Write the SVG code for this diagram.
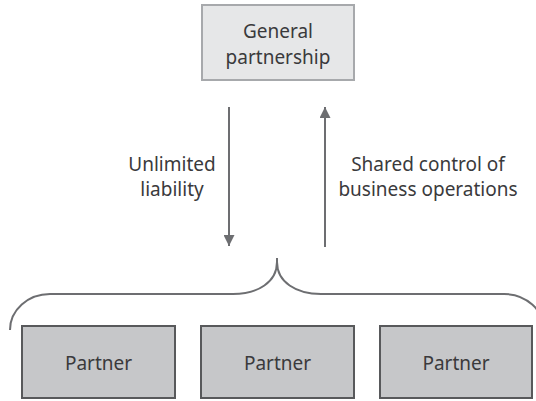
<svg xmlns="http://www.w3.org/2000/svg" width="536" height="401" viewBox="0 0 536 401">
<style>
.t{font-family:"Noto Sans","Liberation Sans",sans-serif;font-size:19px;fill:#3a3a3c;text-anchor:middle}
.top{fill:#e6e7e8;stroke:#a7a9ac;stroke-width:2}
.p{fill:#c6c7c9;stroke:#58595b;stroke-width:2}
.c{fill:none;stroke:#6d6e71;stroke-width:2}
</style>
<defs>
<marker id="ah" viewBox="0 0 10 10" refX="10" refY="5" markerWidth="5.5" markerHeight="5.5" markerUnits="strokeWidth" orient="auto">
<path d="M0,0 L10,5 L0,10 Z" fill="#6d6e71"/>
</marker>
</defs>
<g id="general-partnership">
<rect class="top" x="202" y="5" width="152" height="75"/>
<text class="t" x="278" y="38">General</text>
<text class="t" x="278" y="64">partnership</text>
</g>
<g id="partner-1">
<rect class="p" x="22" y="326" width="153" height="72"/>
<text class="t" x="98.5" y="370">Partner</text>
</g>
<g id="partner-2">
<rect class="p" x="201" y="326" width="153" height="72"/>
<text class="t" x="277.5" y="370">Partner</text>
</g>
<g id="partner-3">
<rect class="p" x="380" y="326" width="152" height="72"/>
<text class="t" x="456" y="370">Partner</text>
</g>
<g id="connectors">
<line class="c" x1="229" y1="107" x2="229" y2="246" marker-end="url(#ah)"/>
<line class="c" x1="325" y1="247" x2="325" y2="107" marker-end="url(#ah)"/>
<path class="c" d="M10,330 C10,310 28,294 50,294 L233,294 C258,294 277,282 277,262 L277,258 M277,262 C277,282 296,294 321,294 L504,294 C526,294 544,310 544,330"/>
</g>
<g id="labels">
<text class="t" x="172" y="171">Unlimited</text>
<text class="t" x="172" y="196">liability</text>
<text class="t" x="428" y="171">Shared control of</text>
<text class="t" x="428" y="196">business operations</text>
</g>
</svg>
